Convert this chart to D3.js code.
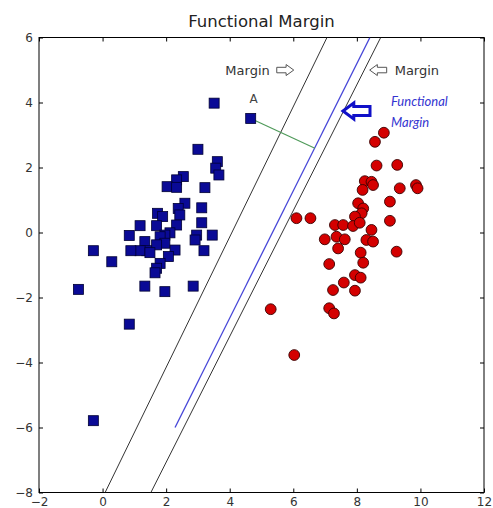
<!DOCTYPE html>
<html>
<head>
<meta charset="utf-8">
<script src="https://cdn.jsdelivr.net/npm/d3@7"></script>
<style>
  html, body { margin: 0; padding: 0; background: #fff; }
  svg { display: block; }
</style>
</head>
<body>
<svg id="chart" width="493" height="508"></svg>
<script>
// ---------------- data ----------------
const chartTitle = "Functional Margin";
const xTicks = [-2, 0, 2, 4, 6, 8, 10, 12];
const yTicks = [-8, -6, -4, -2, 0, 2, 4, 6];

// class 1 (blue squares)
const blueX = [3.51, 4.66, 3.00, 3.61, 3.56, 3.66, 2.54, 2.33, 2.03, 2.33, 3.22, 2.59, 2.38, 3.12, 1.73,
               1.89, 2.43, 2.33, 1.70, 1.18, 3.12, 2.12, 1.96, 1.81, 0.84, 1.33, 2.96, 2.91, 3.45, 1.96,
               1.70, 2.28, 1.39, 1.18, 0.89, -0.29, 1.49, 3.19, 2.07, 0.29, 1.81, 1.70, 1.65, -0.76, 1.33,
               1.96, 2.85, 0.84, -0.29];
const blueY = [3.98, 3.51, 2.56, 2.18, 1.98, 1.77, 1.72, 1.62, 1.41, 1.39, 1.38, 0.90, 0.74, 0.76, 0.59,
               0.49, 0.54, 0.23, 0.21, 0.21, 0.30, -0.01, -0.08, -0.13, -0.09, -0.28, -0.08, -0.23, -0.08, -0.33,
               -0.38, -0.54, -0.56, -0.56, -0.56, -0.56, -0.62, -0.56, -0.74, -0.90, -0.95, -1.10, -1.24, -1.75, -1.65,
               -1.82, -1.65, -2.82, -5.79];

// class 2 (red circles)
const redX = [8.85, 8.57, 8.62, 9.27, 8.25, 8.46, 8.51, 8.18, 9.35, 9.86, 9.91, 9.04, 8.04, 8.20, 8.15,
              6.10, 6.54, 7.94, 7.31, 7.57, 7.88, 8.09, 9.04, 8.46, 6.99, 7.36, 7.62, 8.30, 8.51, 7.41,
              9.25, 8.12, 8.20, 7.13, 7.94, 8.12, 7.59, 7.25, 7.94, 5.29, 7.13, 7.28, 6.03];
const redY = [3.07, 2.79, 2.06, 2.08, 1.58, 1.56, 1.46, 1.31, 1.36, 1.46, 1.36, 0.95, 0.90, 0.74, 0.59,
              0.44, 0.44, 0.49, 0.23, 0.23, 0.20, 0.30, 0.36, 0.08, -0.21, -0.13, -0.21, -0.23, -0.28, -0.49,
              -0.59, -0.62, -0.93, -0.97, -1.31, -1.39, -1.54, -1.77, -1.79, -2.36, -2.33, -2.49, -3.77];

// lines (data coordinates)
const marginLeftLine  = [[0.08, -8], [7.06, 6]];
const marginRightLine = [[1.52, -8], [8.75, 6]];
const hyperplaneLine  = [[2.28, -6], [8.41, 6]];
const distanceLine    = [[4.66, 3.51], [6.68, 2.59]];

// annotations (data coordinates)
const pointLabel = { text: "A", x: 4.75, y: 4.0 };
const marginLabelLeft  = { text: "Margin", x: 5.26, y: 4.86 };
const marginLabelRight = { text: "Margin", x: 9.19, y: 4.86 };
const functionalLabel = ["Functional", "Margin"];

// ---------------- chart ----------------
const svg = d3.select("#chart");
const x = d3.scaleLinear().domain([-2, 12]).range([39, 484]);
const y = d3.scaleLinear().domain([-8, 6]).range([492.5, 37.5]);

const fmt = d => d3.format("d")(d);

// frame
svg.append("rect")
  .attr("x", x(-2)).attr("y", y(6))
  .attr("width", x(12) - x(-2)).attr("height", y(-8) - y(6))
  .attr("fill", "#fff").attr("stroke", "#000").attr("stroke-width", 1);

// clip
svg.append("clipPath").attr("id", "clip")
  .append("rect")
  .attr("x", x(-2)).attr("y", y(6))
  .attr("width", x(12) - x(-2)).attr("height", y(-8) - y(6));

const plot = svg.append("g").attr("clip-path", "url(#clip)");
const line = d3.line().x(d => x(d[0])).y(d => y(d[1]));

plot.append("path").datum(marginLeftLine).attr("d", line)
  .attr("fill", "none").attr("stroke", "#333").attr("stroke-width", 1);
plot.append("path").datum(marginRightLine).attr("d", line)
  .attr("fill", "none").attr("stroke", "#333").attr("stroke-width", 1);
plot.append("path").datum(hyperplaneLine).attr("d", line)
  .attr("fill", "none").attr("stroke", "#4646d8").attr("stroke-width", 1.3);
plot.append("path").datum(distanceLine).attr("d", line)
  .attr("fill", "none").attr("stroke", "#4f9a5a").attr("stroke-width", 1.2);

// blue squares
const sq = 10;
plot.selectAll("rect.blue").data(blueX.map((v, i) => [v, blueY[i]]))
  .enter().append("rect").attr("class", "blue")
  .attr("x", d => x(d[0]) - sq / 2).attr("y", d => y(d[1]) - sq / 2)
  .attr("width", sq).attr("height", sq)
  .attr("fill", "#0a0a96").attr("stroke", "#000033").attr("stroke-width", 0.8);

// red circles
plot.selectAll("circle.red").data(redX.map((v, i) => [v, redY[i]]))
  .enter().append("circle").attr("class", "red")
  .attr("cx", d => x(d[0])).attr("cy", d => y(d[1])).attr("r", 5.4)
  .attr("fill", "#d40000").attr("stroke", "#3a0000").attr("stroke-width", 0.9);

// axes with inward ticks
const axisFont = "DejaVu Sans, sans-serif";
const gx = svg.append("g").attr("transform", `translate(0,${y(-8)})`)
  .call(d3.axisBottom(x).tickValues(xTicks).tickFormat(fmt).tickSize(-4).tickPadding(5));
const gy = svg.append("g").attr("transform", `translate(${x(-2)},0)`)
  .call(d3.axisLeft(y).tickValues(yTicks).tickFormat(fmt).tickSize(-4).tickPadding(6));
const gt = svg.append("g").attr("transform", `translate(0,${y(6)})`)
  .call(d3.axisTop(x).tickValues(xTicks).tickFormat("").tickSize(-4));
const gr = svg.append("g").attr("transform", `translate(${x(12)},0)`)
  .call(d3.axisRight(y).tickValues(yTicks).tickFormat("").tickSize(-4));
[gx, gy, gt, gr].forEach(g => {
  g.select(".domain").remove();
  g.selectAll("line").attr("stroke", "#000");
  g.selectAll("text").attr("font-family", axisFont).attr("font-size", 12).attr("fill", "#333");
});

// title
svg.append("text").attr("x", (x(-2) + x(12)) / 2).attr("y", 27)
  .attr("text-anchor", "middle").attr("font-family", axisFont)
  .attr("font-size", 16.5).attr("fill", "#222").text(chartTitle);

// annotation texts
const ann = svg.append("g");
ann.append("text").attr("x", x(pointLabel.x)).attr("y", y(pointLabel.y))
  .attr("text-anchor", "middle").attr("font-family", axisFont).attr("font-size", 12)
  .attr("fill", "#444").text(pointLabel.text);

ann.append("text").attr("x", x(marginLabelLeft.x)).attr("y", y(marginLabelLeft.y))
  .attr("text-anchor", "end").attr("font-family", axisFont).attr("font-size", 13)
  .attr("fill", "#333").text(marginLabelLeft.text);
ann.append("text").attr("x", x(marginLabelRight.x)).attr("y", y(marginLabelRight.y))
  .attr("text-anchor", "start").attr("font-family", axisFont).attr("font-size", 13)
  .attr("fill", "#333").text(marginLabelRight.text);

// hollow block arrow path: tip at (0,0), pointing in +x direction, length L, height H
function blockArrow(L, H, shaftFrac, headFrac) {
  const hs = H * shaftFrac / 2, hh = H / 2, hl = L * headFrac;
  return `M0,0 L${-hl},${-hh} L${-hl},${-hs} L${-L},${-hs} L${-L},${hs} L${-hl},${hs} L${-hl},${hh} Z`;
}
// right pointing white arrow after left "Margin"
ann.append("path").attr("d", blockArrow(17, 11, 0.5, 0.45))
  .attr("transform", `translate(${x(marginLabelLeft.x) + 24},${y(marginLabelLeft.y) - 4.5})`)
  .attr("fill", "#fff").attr("stroke", "#555").attr("stroke-width", 1);
// left pointing white arrow before right "Margin"
ann.append("path").attr("d", blockArrow(17, 11, 0.5, 0.45))
  .attr("transform", `translate(${x(marginLabelRight.x) - 25},${y(marginLabelRight.y) - 4.5}) scale(-1,1)`)
  .attr("fill", "#fff").attr("stroke", "#555").attr("stroke-width", 1);
// thick blue arrow pointing at the hyperplane
ann.append("path").attr("d", blockArrow(27, 16, 0.55, 0.4))
  .attr("transform", `translate(343,111) scale(-1,1)`)
  .attr("fill", "#fff").attr("stroke", "#1010c8").attr("stroke-width", 3)
  .attr("stroke-linejoin", "miter");

// Functional Margin label
ann.selectAll("text.fm").data(functionalLabel).enter().append("text")
  .attr("class", "fm")
  .attr("x", 391).attr("y", (d, i) => 106 + i * 21)
  .attr("font-family", "Lato, 'Open Sans', sans-serif").attr("font-style", "italic")
  .attr("font-size", 13).attr("fill", "#3434d0").text(d => d);
</script>
</body>
</html>
